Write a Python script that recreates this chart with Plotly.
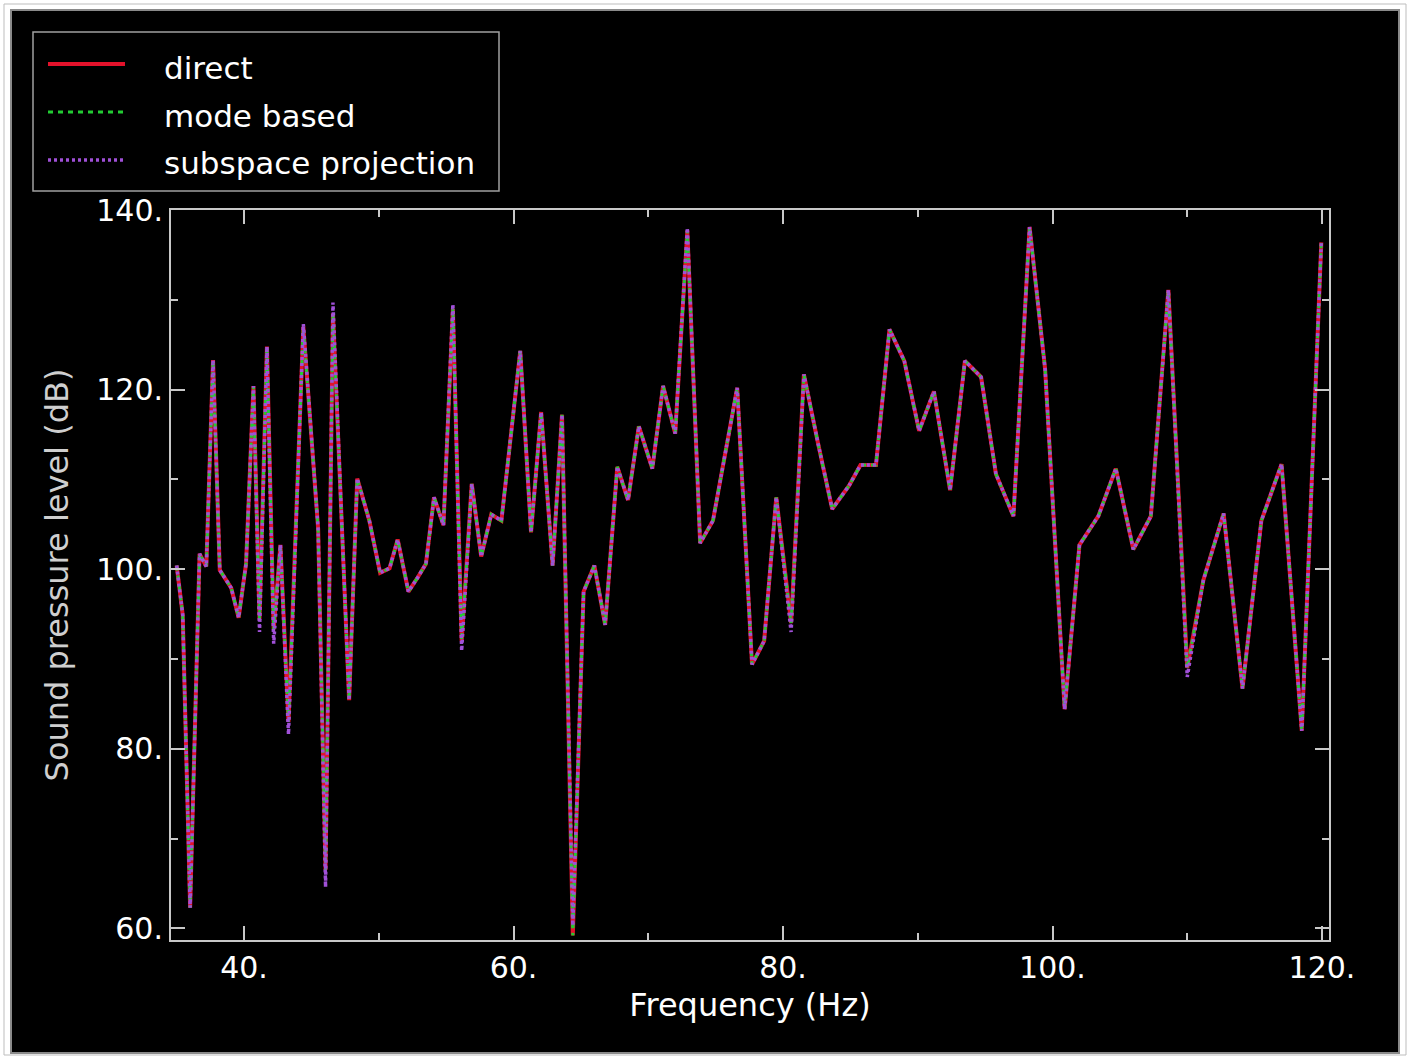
import plotly.graph_objects as go

# Canvas and plot-area geometry (pixels)
W, H = 1411, 1057
L, R, T, B = 171, 82, 210, 117

# Frequency grid (Hz) and sound pressure levels (dB) for each solver
freq = [35.0, 35.45, 36.0, 36.7, 37.2, 37.7, 38.2, 39.05, 39.6, 40.15,
        40.7, 41.15, 41.7, 42.2, 42.7, 43.3, 44.4, 45.5, 46.05, 46.6,
        47.2, 47.8, 48.4, 49.3, 50.1, 50.8, 51.4, 52.2, 52.9, 53.5,
        54.1, 54.8, 55.5, 56.15, 56.9, 57.6, 58.35, 59.1, 60.5, 61.3,
        62.05, 62.9, 63.6, 64.4, 65.2, 66.0, 66.8, 67.7, 68.5, 69.3,
        70.3, 71.1, 72.0, 72.9, 73.85, 74.8, 76.6, 77.7, 78.6, 79.5,
        80.6, 81.55, 82.6, 83.65, 84.9, 85.75, 86.9, 87.9, 89.0, 90.1,
        91.2, 92.4, 93.5, 94.7, 95.8, 97.1, 98.3, 99.45, 100.9, 102.0,
        103.4, 104.7, 106.0, 107.3, 108.6, 110.0, 111.2, 112.7, 114.1, 115.5,
        117.0, 118.5, 119.95]

spl_direct = [100.4, 94.9, 62.3, 101.7, 100.3, 123.3, 99.9, 97.9, 94.6, 100.6,
              120.4, 94.4, 124.8, 93.3, 102.7, 83.0, 127.0, 104.5, 66.5, 128.5,
              107.0, 85.4, 110.1, 105.4, 99.6, 100.1, 103.3, 97.5, 99.1, 100.6,
              108.0, 104.9, 129.0, 92.0, 109.5, 101.4, 106.1, 105.4, 124.3, 104.1,
              117.5, 100.4, 117.2, 59.2, 97.5, 100.4, 93.8, 111.4, 107.7, 115.9,
              111.2, 120.4, 115.1, 137.7, 102.9, 105.4, 120.2, 89.4, 92.0, 108.0,
              94.0, 121.7, 114.0, 106.7, 109.3, 111.6, 111.6, 126.7, 123.2, 115.4,
              119.8, 108.8, 123.2, 121.4, 110.6, 105.9, 138.1, 122.3, 84.4, 102.7,
              105.9, 111.2, 102.2, 105.9, 131.1, 89.0, 98.8, 106.2, 86.7, 105.4,
              111.7, 82.0, 136.4]

# The mode-based solution coincides with the direct one
spl_mode = list(spl_direct)

spl_subspace = [100.4, 94.9, 62.3, 101.7, 100.3, 123.3, 99.9, 97.9, 94.6, 100.6,
                120.4, 93.0, 124.8, 91.7, 102.7, 81.6, 127.3, 104.5, 64.6, 129.7,
                107.0, 85.4, 110.1, 105.4, 99.6, 100.1, 103.3, 97.5, 99.1, 100.6,
                108.0, 104.9, 129.5, 90.9, 109.5, 101.4, 106.1, 105.4, 124.3, 104.1,
                117.5, 100.4, 117.2, 60.3, 97.5, 100.4, 93.8, 111.4, 107.7, 115.9,
                111.2, 120.4, 115.1, 138.0, 102.9, 105.4, 120.2, 89.4, 92.0, 108.0,
                93.0, 121.7, 114.0, 106.7, 109.3, 111.6, 111.6, 126.7, 123.2, 115.4,
                119.8, 108.8, 123.2, 121.4, 110.6, 105.9, 138.1, 122.3, 84.4, 102.7,
                105.9, 111.2, 102.2, 105.9, 131.1, 88.0, 98.8, 106.2, 86.7, 105.4,
                111.7, 82.0, 136.4]

series_names = ["direct", "mode based", "subspace projection"]
series_colors = ["#e3122b", "#22cc33", "#a050d8"]
series_dashes = ["solid", "5px,5px", "3px,3px"]
series_widths = [4, 3, 3.5]

x_major = [40, 60, 80, 100, 120]
x_minor = [50, 70, 90, 110]
y_major = [60, 80, 100, 120, 140]
y_minor = [70, 90, 110, 130]
x_labels = ["40.", "60.", "80.", "100.", "120."]
y_labels = ["60.", "80.", "100.", "120.", "140."]

FONT = "DejaVu Sans"
FRAME = "#c8c8c8"


def px_x(p):
    return (p - L) / (W - L - R)


def px_y(p):
    return (H - B - p) / (H - T - B)


fig = go.Figure()
for name, ys, color, dash, width in zip(
        series_names, [spl_direct, spl_mode, spl_subspace],
        series_colors, series_dashes, series_widths):
    fig.add_trace(go.Scatter(
        x=freq, y=ys, name=name, mode="lines",
        line=dict(color=color, width=width, dash=dash)))

axis_common = dict(
    showgrid=False, zeroline=False, showline=True, linecolor=FRAME, linewidth=2,
    mirror="ticks", ticks="inside", ticklen=14, tickwidth=1.5, tickcolor=FRAME,
    tickfont=dict(family=FONT, size=30, color="white"),
)

fig.update_xaxes(
    range=[34.58, 120.52], tickmode="array", tickvals=x_major, ticktext=x_labels,
    minor=dict(tickmode="array", tickvals=x_minor, ticks="inside", ticklen=7,
               tickwidth=1.5, tickcolor=FRAME),
    title=dict(text="Frequency (Hz)", standoff=10,
               font=dict(family=FONT, size=32, color="white")),
    **axis_common)
fig.update_yaxes(
    range=[58.7, 140.0], tickmode="array", tickvals=y_major, ticktext=y_labels,
    minor=dict(tickmode="array", tickvals=y_minor, ticks="inside", ticklen=7,
               tickwidth=1.5, tickcolor=FRAME),
    title=dict(text="Sound pressure level (dB)", standoff=18,
               font=dict(family=FONT, size=32, color="#cfcfcf")),
    **axis_common)

shapes = [
    # outer thin frame around the card
    dict(type="rect", xref="paper", yref="paper", layer="below",
         x0=px_x(4), x1=px_x(1406), y0=px_y(1055), y1=px_y(4),
         line=dict(color="#bdbdbd", width=1), fillcolor="white"),
    # black card behind the chart
    dict(type="rect", xref="paper", yref="paper", layer="below",
         x0=px_x(11), x1=px_x(1399), y0=px_y(1053), y1=px_y(10),
         line=dict(color="#8a8a8a", width=2), fillcolor="black"),
    # legend box
    dict(type="rect", xref="paper", yref="paper", layer="above",
         x0=px_x(33), x1=px_x(499), y0=px_y(191), y1=px_y(32),
         line=dict(color="#a0a0a0", width=1.5), fillcolor="black"),
]

annotations = []
legend_rows = [64, 112, 160]
text_rows = [68, 116, 163]
for name, color, dash, width, ly, ty in zip(
        series_names, series_colors, series_dashes, series_widths,
        legend_rows, text_rows):
    shapes.append(dict(
        type="line", xref="paper", yref="paper", layer="above",
        x0=px_x(48), x1=px_x(125), y0=px_y(ly), y1=px_y(ly),
        line=dict(color=color, width=width, dash=dash)))
    annotations.append(dict(
        text=name, xref="paper", yref="paper", x=px_x(162), y=px_y(ty),
        xanchor="left", yanchor="middle", showarrow=False,
        font=dict(family=FONT, size=31, color="white")))

fig.update_layout(
    width=W, height=H,
    margin=dict(l=L, r=R, t=T, b=B, autoexpand=False),
    paper_bgcolor="white", plot_bgcolor="black",
    font=dict(family=FONT, color="white"),
    shapes=shapes, annotations=annotations,
    showlegend=False,
)

fig.write_html("out.html")
